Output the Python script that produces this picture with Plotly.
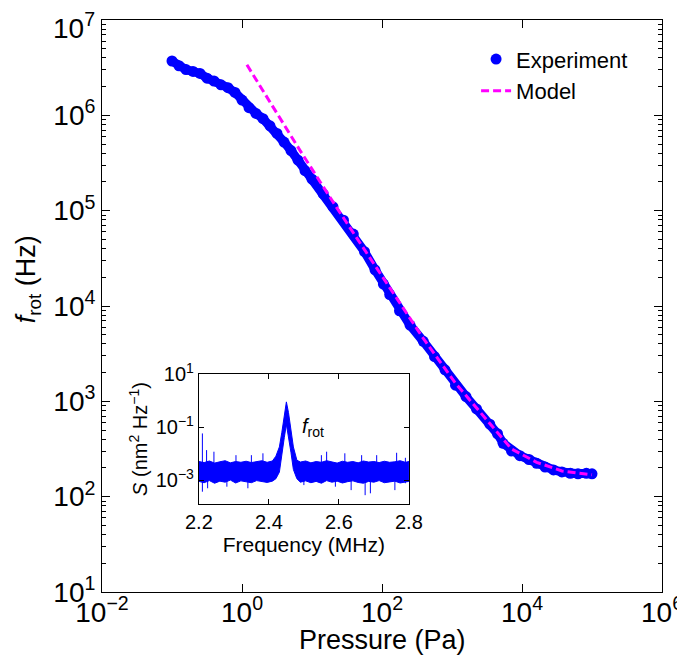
import plotly.graph_objects as go

# main panel: rotation frequency vs pressure (log10 values)
exp_log_p = [-1.00, -0.90, -0.80, -0.70, -0.60, -0.50, -0.40, -0.30, -0.20, -0.10,
             0.00, 0.10, 0.20, 0.30, 0.40, 0.50, 0.60, 0.70, 0.80, 0.90,
             1.00, 1.16, 1.30, 1.45, 1.59, 1.75, 1.90, 2.02, 2.11, 2.25,
             2.40, 2.59, 2.75, 2.90, 3.05, 3.20, 3.35, 3.54, 3.65, 3.73,
             3.85, 3.97, 4.10, 4.21, 4.33, 4.45, 4.57, 4.69, 4.80, 4.92, 5.00]
exp_log_f = [6.57, 6.52, 6.48, 6.46, 6.44, 6.39, 6.36, 6.32, 6.29, 6.24,
             6.16, 6.08, 6.02, 5.965, 5.89, 5.81, 5.72, 5.63, 5.53, 5.42,
             5.33, 5.175, 5.04, 4.90, 4.755, 4.57, 4.38, 4.23, 4.12, 3.95,
             3.80, 3.63, 3.47, 3.33, 3.17, 3.05, 2.92, 2.76, 2.66, 2.56,
             2.48, 2.43, 2.39, 2.35, 2.31, 2.28, 2.26, 2.245, 2.24, 2.245, 2.24]

model_log_p = [0.07, 0.83, 1.35, 2.21, 2.59, 3.05, 3.54, 3.85, 4.21, 4.57, 5.00]
model_log_f = [6.53, 5.63, 5.035, 4.09, 3.66, 3.19, 2.76, 2.50, 2.36, 2.27, 2.23]

# inset: noise spectrum around f_rot (band envelopes, log10 S)
freq_mhz = [2.200, 2.215, 2.230, 2.245, 2.260, 2.275, 2.290, 2.305, 2.320, 2.335,
            2.350, 2.365, 2.380, 2.395, 2.410, 2.420, 2.430, 2.437, 2.444, 2.450,
            2.456, 2.463, 2.470, 2.480, 2.490, 2.505, 2.520, 2.535, 2.550, 2.565,
            2.580, 2.595, 2.610, 2.625, 2.640, 2.655, 2.670, 2.685, 2.700, 2.715,
            2.730, 2.745, 2.760, 2.775, 2.790, 2.800]
band_hi = [-2.30, -2.34, -2.28, -2.36, -2.31, -2.27, -2.35, -2.30, -2.33, -2.29,
           -2.34, -2.30, -2.27, -2.33, -2.28, -2.10, -1.75, -1.20, -0.55, -0.05,
           -0.45, -1.10, -1.75, -2.25, -2.32, -2.28, -2.35, -2.30, -2.33, -2.27,
           -2.31, -2.36, -2.29, -2.33, -2.30, -2.35, -2.28, -2.32, -2.30, -2.34,
           -2.29, -2.33, -2.31, -2.27, -2.33, -2.30]
band_lo = [-3.05, -3.10, -3.02, -3.12, -3.04, -3.08, -3.00, -3.11, -3.03, -3.07,
           -3.10, -3.02, -3.06, -3.09, -3.04, -2.95, -2.70, -2.10, -1.40, -0.90,
           -1.30, -1.95, -2.60, -2.95, -3.08, -3.03, -3.10, -3.05, -3.12, -3.02,
           -3.08, -3.04, -3.11, -3.06, -3.03, -3.09, -3.12, -3.05, -3.08, -3.02,
           -3.10, -3.06, -3.04, -3.11, -3.07, -3.05]

spike_up_f = [2.210, 2.222, 2.243, 2.306, 2.350, 2.383, 2.550, 2.565, 2.617, 2.665, 2.708, 2.765, 2.790]
spike_up_s = [-1.24, -1.87, -1.93, -2.06, -2.06, -1.99, -2.06, -1.93, -1.99, -2.06, -2.06, -1.97, -2.16]
spike_dn_f = [2.210, 2.225, 2.280, 2.340, 2.500, 2.590, 2.635, 2.675, 2.690, 2.760, 2.790]
spike_dn_s = [-3.44, -3.31, -3.25, -3.31, -3.19, -3.25, -3.38, -3.57, -3.50, -3.38, -3.12]

x_ticks = [1e-2, 1e0, 1e2, 1e4, 1e6]
x_ticktext = ["10<sup>−2</sup>", "10<sup>0</sup>", "10<sup>2</sup>", "10<sup>4</sup>", "10<sup>6</sup>"]
y_ticks = [1e1, 1e2, 1e3, 1e4, 1e5, 1e6, 1e7]
y_ticktext = ["10<sup>%d</sup>" % k for k in range(1, 8)]
inset_yticks = [1e1, 1e-1, 1e-3]
inset_yticktext = ["10<sup>1</sup>", "10<sup>−1</sup>", "10<sup>−3</sup>"]

BLUE = "#0000FF"
MAGENTA = "#FF00FF"
FONT = "Liberation Sans"

exp_p = [10 ** v for v in exp_log_p]
exp_f = [10 ** v for v in exp_log_f]
model_p = [10 ** v for v in model_log_p]
model_f = [10 ** v for v in model_log_f]

# minor tick positions for the log y axis (2..9 in every decade)
y_minor = [m * 10 ** d for d in range(1, 7) for m in range(2, 10)]

fig = go.Figure()

# thick line under the markers so the experimental points read as a solid band
fig.add_trace(go.Scatter(x=exp_p, y=exp_f, mode="lines", line=dict(color=BLUE, width=9),
                         showlegend=False, hoverinfo="skip"))
fig.add_trace(go.Scatter(x=exp_p, y=exp_f, mode="markers", name="Experiment",
                         marker=dict(color=BLUE, size=11)))
fig.add_trace(go.Scatter(x=model_p, y=model_f, mode="lines", name="Model",
                         line=dict(color=MAGENTA, width=3, dash="8px,4px")))

# inset band as one closed polygon
band_x = freq_mhz + freq_mhz[::-1]
band_y = [10 ** v for v in band_hi] + [10 ** v for v in band_lo[::-1]]
fig.add_trace(go.Scatter(x=band_x, y=band_y, fill="toself", fillcolor=BLUE, mode="lines",
                         line=dict(color=BLUE, width=1), xaxis="x2", yaxis="y2",
                         showlegend=False, hoverinfo="skip"))

sx, sy = [], []
for f, s in zip(spike_up_f, spike_up_s):
    sx += [f, f, None]
    sy += [10 ** -2.6, 10 ** s, None]
for f, s in zip(spike_dn_f, spike_dn_s):
    sx += [f, f, None]
    sy += [10 ** -2.7, 10 ** s, None]
fig.add_trace(go.Scatter(x=sx, y=sy, mode="lines", line=dict(color=BLUE, width=1),
                         xaxis="x2", yaxis="y2", showlegend=False, hoverinfo="skip"))

axis_common = dict(showline=True, linecolor="black", linewidth=1, mirror="ticks",
                   ticks="inside", tickcolor="black", showgrid=False, zeroline=False,
                   automargin=False, ticklabeloverflow="allow")

# the top label (10^7) would be clipped by the page edge, so it is drawn as an
# annotation nudged a few px down instead of as a regular tick label
y_axis_labels = y_ticktext[:-1] + [""]

# the page body adds an 8 px offset, so the figure is 8 px smaller than the window
fig.update_layout(
    width=677, height=658,
    margin=dict(l=94, r=23, t=12, b=74),
    paper_bgcolor="white", plot_bgcolor="white",
    font=dict(family=FONT, size=27, color="black"),
    xaxis=dict(type="log", range=[-2, 6], tickvals=x_ticks, ticktext=x_ticktext,
               ticklen=8, tickfont=dict(size=28), ticklabelstandoff=-5, **axis_common),
    yaxis=dict(type="log", range=[1, 7], tickvals=y_ticks, ticktext=y_axis_labels,
               ticklen=8, tickfont=dict(size=28),
               minor=dict(ticks="inside", ticklen=4, tickcolor="black", tickvals=y_minor),
               **axis_common),
    xaxis2=dict(domain=[0.173, 0.548], anchor="y2", range=[2.2, 2.8],
                tickvals=[2.2, 2.4, 2.6, 2.8], ticktext=["2.2", "2.4", "2.6", "2.8"],
                ticklen=5, tickfont=dict(size=20),
                title=dict(text="Frequency (MHz)", font=dict(size=21), standoff=2),
                **axis_common),
    yaxis2=dict(domain=[0.154, 0.381], anchor="x2", type="log", range=[-3.9, 1],
                tickvals=inset_yticks, ticktext=inset_yticktext,
                ticklen=5, tickfont=dict(size=20),
                title=dict(text="<i>S</i> (nm<sup>2</sup> Hz<sup>−1</sup>)",
                           font=dict(size=20), standoff=2),
                **axis_common),
    legend=dict(x=0.668, y=0.968, xanchor="left", yanchor="top", bgcolor="rgba(0,0,0,0)",
                font=dict(size=22), itemwidth=30, tracegroupgap=0),
    annotations=[
        dict(x=0, y=1, xref="paper", yref="paper", xanchor="right", yanchor="middle",
             xshift=-5, yshift=-6, text=y_ticktext[-1], showarrow=False,
             font=dict(size=28)),
        dict(x=0.5, y=-0.084, xref="paper", yref="paper", xanchor="center", yanchor="middle",
             text="Pressure (Pa)", showarrow=False, font=dict(size=27)),
        dict(x=-0.132, y=0.547, xref="paper", yref="paper", xanchor="center", yanchor="middle",
             text="<i>f</i><sub>rot</sub> (Hz)", textangle=-90, showarrow=False,
             font=dict(size=27)),
        dict(x=2.49, y=-1.0, xref="x2", yref="y2", xanchor="left", yanchor="middle",
             text="<i>f</i><sub>rot</sub>", showarrow=False, font=dict(size=20)),
    ],
)

fig.write_html("out.html")
